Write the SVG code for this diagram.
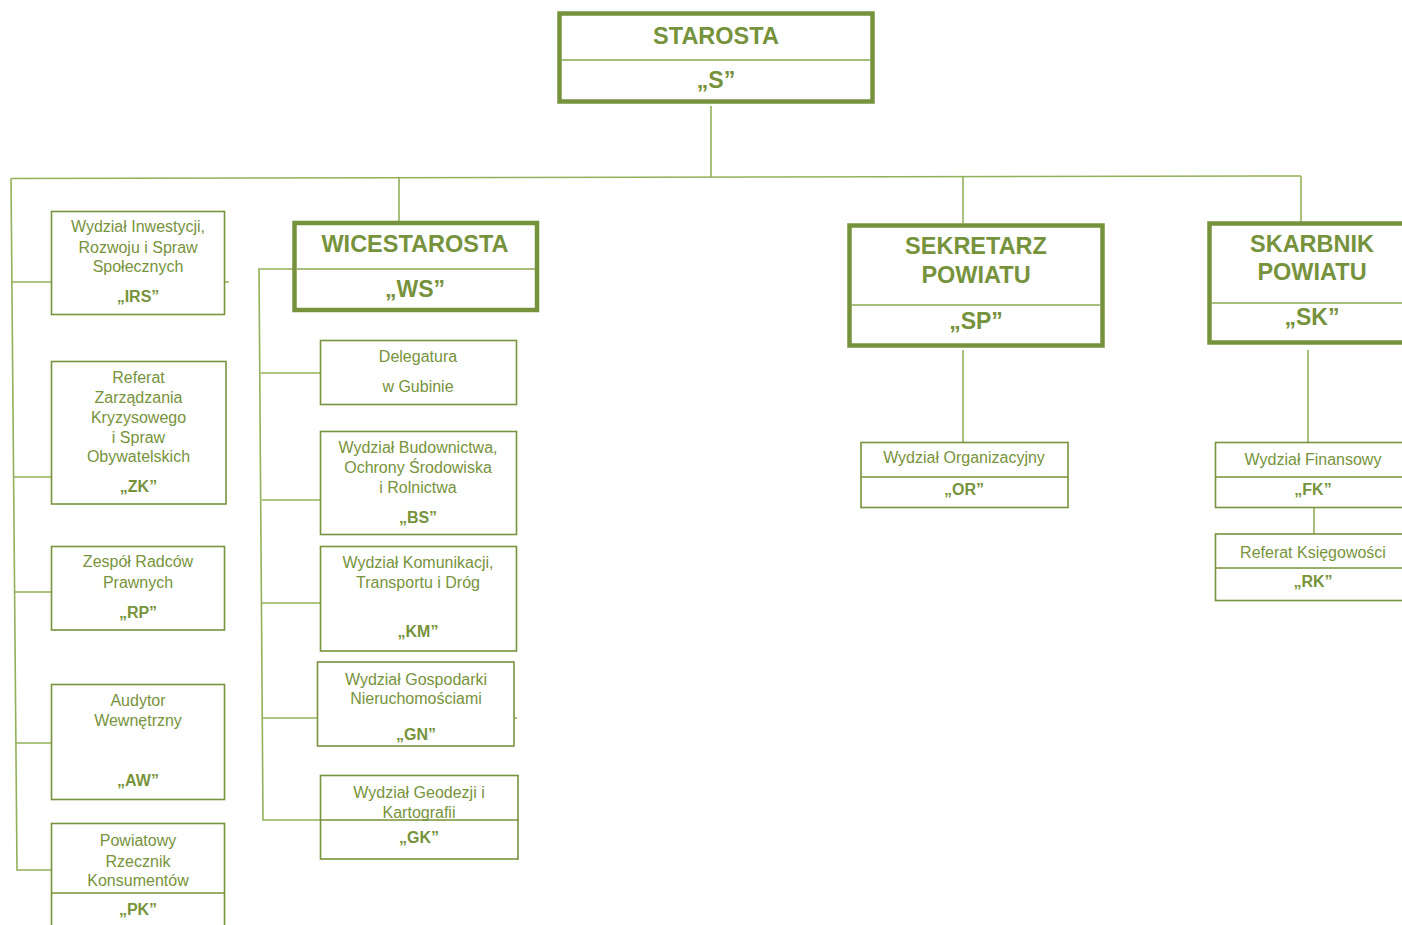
<svg xmlns="http://www.w3.org/2000/svg" width="1402" height="925" viewBox="0 0 1402 925">
  <style>
    .head { fill: #ffffff; stroke: #76923C; stroke-width: 4.5; }
    .box { fill: #ffffff; stroke: #77933C; stroke-width: 1.6; }
    .div { stroke: #77933C; stroke-width: 1.4; fill: none; }
    .divh { stroke: #8aa84f; stroke-width: 1.4; fill: none; }
    .conn { stroke: #92b05a; stroke-width: 1.6; fill: none; }
    text { font-family: "Liberation Sans", Arial, sans-serif; fill: #77933C; text-anchor: middle; }
    .ht { font-size: 23.5px; font-weight: bold; fill: #76923C; }
    .hc { font-size: 23px; font-weight: bold; fill: #76923C; }
    .t { font-size: 16px; }
    .c { font-size: 16px; font-weight: bold; }
  </style>

  <!-- connectors -->
  <g id="connectors">
    <!-- STAROSTA down to main bus -->
    <line class="conn" x1="711" y1="106" x2="711" y2="177"/>
    <line class="conn" x1="11" y1="178.5" x2="1301" y2="176"/>
    <!-- bus to deputies -->
    <line class="conn" x1="399" y1="177.5" x2="399" y2="221"/>
    <line class="conn" x1="963" y1="176.5" x2="963" y2="223"/>
    <polyline class="conn" points="1301,176 1301,222"/>
    <!-- left staff column -->
    <polyline class="conn" points="11,178.5 17,870 51,870"/>
    <line class="conn" x1="11" y1="282" x2="229" y2="282"/>
    <line class="conn" x1="13" y1="477" x2="226" y2="477"/>
    <line class="conn" x1="15" y1="592" x2="225" y2="592"/>
    <line class="conn" x1="16" y1="743" x2="225" y2="743"/>
    <!-- WICESTAROSTA branch -->
    <polyline class="conn" points="294,269 259,269 263,820 519,820"/>
    <line class="conn" x1="261" y1="373" x2="320" y2="373"/>
    <line class="conn" x1="262" y1="500" x2="517" y2="500"/>
    <line class="conn" x1="262" y1="603" x2="517" y2="603"/>
    <line class="conn" x1="262" y1="718" x2="517" y2="718"/>
    <!-- SEKRETARZ branch -->
    <line class="conn" x1="963" y1="350" x2="963" y2="442"/>
    <!-- SKARBNIK branch -->
    <line class="conn" x1="1308" y1="350" x2="1308" y2="442"/>
    <line class="conn" x1="1314" y1="507" x2="1314" y2="534"/>
  </g>

  <!-- top level -->
  <g id="starosta">
    <rect class="head" x="559.5" y="13.5" width="313" height="88"/>
    <line class="divh" x1="562" y1="60" x2="870" y2="60"/>
    <text class="ht" x="716" y="44">STAROSTA</text>
    <text class="hc" x="716" y="88">„S”</text>
  </g>

  <g id="wicestarosta">
    <rect class="head" x="294.5" y="223" width="242.5" height="87"/>
    <line class="divh" x1="297" y1="269" x2="535" y2="269"/>
    <text class="ht" x="415" y="252">WICESTAROSTA</text>
    <text class="hc" x="415" y="297">„WS”</text>
  </g>

  <g id="sekretarz">
    <rect class="head" x="849.5" y="225.5" width="253" height="120"/>
    <line class="divh" x1="852" y1="305" x2="1100" y2="305"/>
    <text class="ht" x="976" y="254">SEKRETARZ</text>
    <text class="ht" x="976" y="283">POWIATU</text>
    <text class="hc" x="976" y="329">„SP”</text>
  </g>

  <g id="skarbnik">
    <rect class="head" x="1209.5" y="223.5" width="205" height="119"/>
    <line class="divh" x1="1212" y1="303" x2="1412" y2="303"/>
    <text class="ht" x="1312" y="252">SKARBNIK</text>
    <text class="ht" x="1312" y="280">POWIATU</text>
    <text class="hc" x="1312" y="325">„SK”</text>
  </g>

  <!-- left column -->
  <g id="irs">
    <rect class="box" x="51.5" y="211.5" width="173" height="103"/>
    <text class="t" x="138" y="232">Wydział Inwestycji,</text>
    <text class="t" x="138" y="253">Rozwoju i Spraw</text>
    <text class="t" x="138" y="272">Społecznych</text>
    <text class="c" x="138" y="302">„IRS”</text>
  </g>

  <g id="zk">
    <rect class="box" x="51.5" y="361.5" width="174.5" height="142.5"/>
    <text class="t" x="138.5" y="383">Referat</text>
    <text class="t" x="138.5" y="403">Zarządzania</text>
    <text class="t" x="138.5" y="423">Kryzysowego</text>
    <text class="t" x="138.5" y="443">i Spraw</text>
    <text class="t" x="138.5" y="462">Obywatelskich</text>
    <text class="c" x="138.5" y="492">„ZK”</text>
  </g>

  <g id="rp">
    <rect class="box" x="51.5" y="546.5" width="173" height="83.5"/>
    <text class="t" x="138" y="567">Zespół Radców</text>
    <text class="t" x="138" y="588">Prawnych</text>
    <text class="c" x="138" y="618">„RP”</text>
  </g>

  <g id="aw">
    <rect class="box" x="51.5" y="684.5" width="173" height="115"/>
    <text class="t" x="138" y="706">Audytor</text>
    <text class="t" x="138" y="726">Wewnętrzny</text>
    <text class="c" x="138" y="786">„AW”</text>
  </g>

  <g id="pk">
    <rect class="box" x="51.5" y="823.5" width="173" height="120"/>
    <line class="div" x1="51.5" y1="893" x2="224.5" y2="893"/>
    <text class="t" x="138" y="846">Powiatowy</text>
    <text class="t" x="138" y="867">Rzecznik</text>
    <text class="t" x="138" y="886">Konsumentów</text>
    <text class="c" x="138" y="915">„PK”</text>
  </g>

  <!-- WICESTAROSTA units -->
  <g id="delegatura">
    <rect class="box" x="320.5" y="340.5" width="196" height="64"/>
    <text class="t" x="418" y="362">Delegatura</text>
    <text class="t" x="418" y="392">w Gubinie</text>
  </g>

  <g id="bs">
    <rect class="box" x="320.5" y="431.5" width="196" height="103"/>
    <text class="t" x="418" y="453">Wydział Budownictwa,</text>
    <text class="t" x="418" y="473">Ochrony Środowiska</text>
    <text class="t" x="418" y="493">i Rolnictwa</text>
    <text class="c" x="418" y="523">„BS”</text>
  </g>

  <g id="km">
    <rect class="box" x="320.5" y="546.5" width="196" height="104.5"/>
    <text class="t" x="418" y="568">Wydział Komunikacji,</text>
    <text class="t" x="418" y="588">Transportu i Dróg</text>
    <text class="c" x="418" y="637">„KM”</text>
  </g>

  <g id="gn">
    <rect class="box" x="317.5" y="662" width="196.5" height="84"/>
    <text class="t" x="416" y="685">Wydział Gospodarki</text>
    <text class="t" x="416" y="704">Nieruchomościami</text>
    <text class="c" x="416" y="740">„GN”</text>
  </g>

  <g id="gk">
    <rect class="box" x="320.5" y="775.5" width="197.5" height="83.5"/>
    <text class="t" x="419" y="798">Wydział Geodezji i</text>
    <text class="t" x="419" y="818">Kartografii</text>
    <line class="div" x1="320.5" y1="820" x2="518" y2="820"/>
    <text class="c" x="419" y="843">„GK”</text>
  </g>

  <!-- SEKRETARZ units -->
  <g id="or">
    <rect class="box" x="861" y="442.5" width="207" height="65"/>
    <line class="div" x1="861" y1="477" x2="1068" y2="477"/>
    <text class="t" x="964" y="463">Wydział Organizacyjny</text>
    <text class="c" x="964" y="495">„OR”</text>
  </g>

  <!-- SKARBNIK units -->
  <g id="fk">
    <rect class="box" x="1215.5" y="442.5" width="196" height="65"/>
    <line class="div" x1="1215.5" y1="477" x2="1411.5" y2="477"/>
    <text class="t" x="1313" y="465">Wydział Finansowy</text>
    <text class="c" x="1313" y="495">„FK”</text>
  </g>

  <g id="rk">
    <rect class="box" x="1215.5" y="534" width="196" height="66.5"/>
    <line class="div" x1="1215.5" y1="568" x2="1411.5" y2="568"/>
    <text class="t" x="1313" y="558">Referat Księgowości</text>
    <text class="c" x="1313" y="587">„RK”</text>
  </g>
</svg>
